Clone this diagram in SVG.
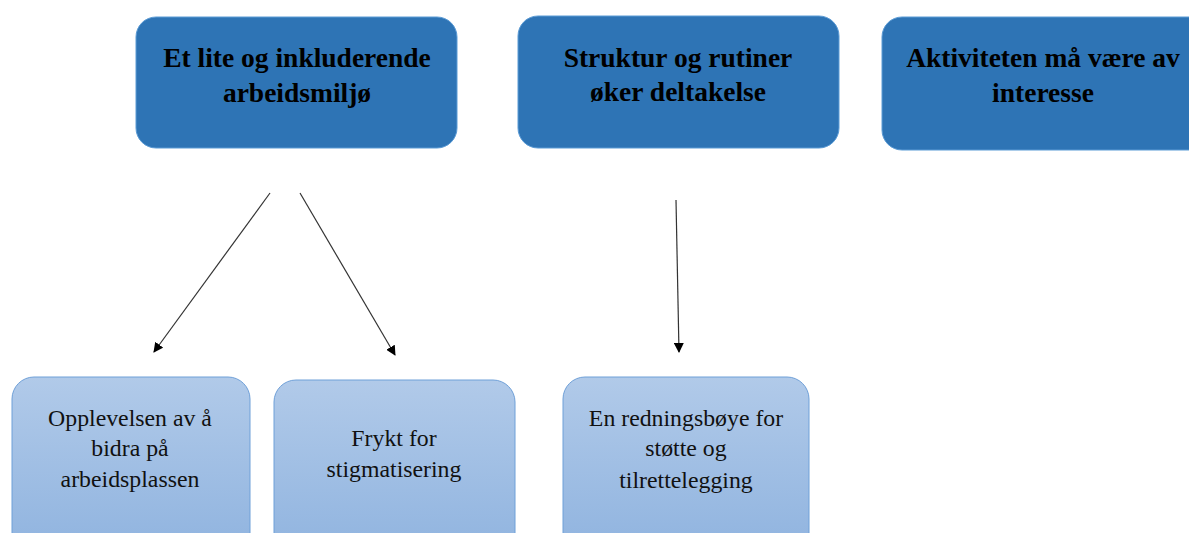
<svg xmlns="http://www.w3.org/2000/svg" width="1189" height="533" viewBox="0 0 1189 533">
<style>
.top{fill:#2E74B5;stroke:#5B9BD5;stroke-width:1}
.bot{fill:url(#g);stroke:#6FA0D8;stroke-width:1}
.tt{font-family:"Liberation Serif",serif;font-weight:bold;font-size:27.5px;fill:#000;text-anchor:middle}
.bt{font-family:"Liberation Serif",serif;font-size:23.8px;fill:#111;text-anchor:middle}
.c{stroke:#333;stroke-width:1.2;fill:none;marker-end:url(#a)}
</style>
<defs>
<linearGradient id="g" x1="0" y1="0" x2="0" y2="1">
<stop offset="0" stop-color="#B1CAE9"/>
<stop offset="1" stop-color="#8FB3DF"/>
</linearGradient>
<marker id="a" markerWidth="10" markerHeight="10" refX="9" refY="5" orient="auto" markerUnits="userSpaceOnUse">
<path d="M0,0 L10,5 L0,10 Z" fill="#000"/>
</marker>
</defs>
<g id="n1"><rect class="top" x="136" y="17" width="321" height="131" rx="20"/>
<text class="tt" x="297" y="67">Et lite og inkluderende</text><text class="tt" x="297" y="102">arbeidsmiljø</text></g>
<g id="n2"><rect class="top" x="518" y="16" width="321" height="132" rx="20"/>
<text class="tt" x="678" y="67">Struktur og rutiner</text><text class="tt" x="678" y="101">øker deltakelse</text></g>
<g id="n3"><rect class="top" x="882" y="17" width="330" height="133" rx="20"/>
<text class="tt" x="1043" y="67">Aktiviteten må være av</text><text class="tt" x="1043" y="102">interesse</text></g>
<g id="n4"><rect class="bot" x="12" y="377" width="238" height="180" rx="22"/>
<text class="bt" x="130" y="426">Opplevelsen av å</text><text class="bt" x="130" y="456">bidra på</text><text class="bt" x="130" y="487">arbeidsplassen</text></g>
<g id="n5"><rect class="bot" x="274" y="380" width="241" height="180" rx="22"/>
<text class="bt" x="394" y="446">Frykt for</text><text class="bt" x="394" y="477">stigmatisering</text></g>
<g id="n6"><rect class="bot" x="563" y="377" width="246" height="180" rx="22"/>
<text class="bt" x="686" y="426">En redningsbøye for</text><text class="bt" x="686" y="456">støtte og</text><text class="bt" x="686" y="488">tilrettelegging</text></g>
<g id="connectors">
<line class="c" x1="270" y1="193" x2="154" y2="352"/>
<line class="c" x1="300" y1="193" x2="395" y2="355"/>
<line class="c" x1="676" y1="200" x2="679" y2="352"/>
</g>
</svg>
